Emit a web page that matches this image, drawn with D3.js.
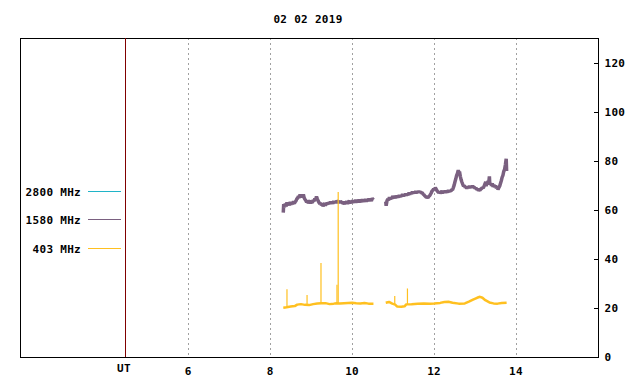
<!DOCTYPE html>
<html><head><meta charset="utf-8">
<script src="https://cdn.jsdelivr.net/npm/d3@7/dist/d3.min.js"></script>
<style>body{margin:0;background:#fff}svg{display:block}text{font-family:"DejaVu Sans Mono",monospace;font-weight:bold;font-size:11px;letter-spacing:0.3px;fill:#000}</style>
</head><body><svg id="c" width="640" height="384"></svg>
<script>
const title = "02 02 2019";
const xTicks = [6, 8, 10, 12, 14];
const yTicks = [0, 20, 40, 60, 80, 100, 120];
const legendLabels = ["2800 MHz", "1580 MHz", "403 MHz"];
const legendColors = ["#20b4c8", "#7a6080", "#ffc020"];

// 1580 MHz series: two segments [hour, value]
const s1580a = [[8.32,59.0],[8.33,62.5],[8.35,61.2],[8.37,62.6],[8.39,61.5],[8.41,63.2],[8.43,61.9],[8.45,62.8],[8.47,62.0],[8.49,63.4],[8.51,62.3],[8.53,63.0],[8.55,62.4],[8.57,63.7],[8.59,62.8],[8.61,63.4],[8.63,63.8],[8.65,64.6],[8.67,64.9],[8.69,65.7],[8.71,65.0],[8.73,66.4],[8.75,65.4],[8.77,66.0],[8.79,65.2],[8.81,66.4],[8.83,65.0],[8.85,64.4],[8.87,63.9],[8.89,63.2],[8.91,63.9],[8.93,62.8],[8.95,63.5],[8.97,63.8],[8.99,62.9],[9.01,63.4],[9.03,63.0],[9.05,64.1],[9.07,63.6],[9.09,64.7],[9.11,64.2],[9.13,65.6],[9.15,64.6],[9.17,63.8],[9.19,63.2],[9.21,62.6],[9.23,63.0],[9.25,62.0],[9.27,62.5],[9.29,61.6],[9.31,62.3],[9.33,62.8],[9.35,61.9],[9.37,62.5],[9.39,62.9],[9.41,62.4],[9.43,63.2],[9.45,62.5],[9.47,63.5],[9.49,62.8],[9.51,63.4],[9.53,62.6],[9.55,63.7],[9.57,63.0],[9.59,63.6],[9.61,63.0],[9.63,63.9],[9.65,63.3],[9.67,63.8],[9.69,62.9],[9.71,63.7],[9.73,63.2],[9.75,63.5],[9.77,62.7],[9.79,63.1],[9.81,62.4],[9.83,63.5],[9.85,62.9],[9.87,63.6],[9.89,62.6],[9.91,63.4],[9.93,63.8],[9.95,62.9],[9.97,63.5],[9.99,63.1],[10.01,64.0],[10.03,63.2],[10.05,63.7],[10.07,63.1],[10.09,64.2],[10.11,63.4],[10.13,63.8],[10.15,63.2],[10.17,64.3],[10.19,63.5],[10.21,63.9],[10.23,63.3],[10.25,64.4],[10.27,63.6],[10.29,64.0],[10.31,63.5],[10.33,64.5],[10.35,63.7],[10.37,64.1],[10.39,63.8],[10.41,64.7],[10.43,63.9],[10.45,64.3],[10.47,63.8],[10.49,64.8],[10.52,64.2]];
const s1580b = [[10.82,63.5],[10.83,61.8],[10.85,63.8],[10.87,64.6],[10.89,64.0],[10.91,65.3],[10.93,64.5],[10.95,65.0],[10.97,64.6],[10.99,65.8],[11.01,65.0],[11.03,65.5],[11.05,64.9],[11.07,65.9],[11.09,65.3],[11.11,65.7],[11.13,65.2],[11.15,66.2],[11.17,65.5],[11.19,65.9],[11.21,65.6],[11.23,66.5],[11.25,65.8],[11.27,66.2],[11.29,65.9],[11.31,66.8],[11.33,66.1],[11.35,66.5],[11.37,66.2],[11.39,67.2],[11.41,66.5],[11.43,67.0],[11.45,66.7],[11.47,67.5],[11.49,66.9],[11.51,67.3],[11.53,67.0],[11.55,67.7],[11.57,67.1],[11.59,67.5],[11.61,67.2],[11.63,67.8],[11.65,67.2],[11.67,67.5],[11.69,67.0],[11.71,67.1],[11.73,66.6],[11.75,66.3],[11.77,65.9],[11.79,65.6],[11.81,65.2],[11.83,65.4],[11.85,65.1],[11.87,65.6],[11.89,65.9],[11.91,66.4],[11.93,67.0],[11.95,67.8],[11.97,68.1],[11.99,68.7],[12.01,68.3],[12.03,69.2],[12.05,68.6],[12.07,68.0],[12.09,67.6],[12.11,67.2],[12.13,67.6],[12.15,66.9],[12.17,67.4],[12.19,67.8],[12.21,67.0],[12.23,67.5],[12.25,67.2],[12.27,68.0],[12.29,67.3],[12.31,67.6],[12.33,67.3],[12.35,68.2],[12.37,67.6],[12.39,67.9],[12.41,67.7],[12.43,68.4],[12.45,68.3],[12.47,69.2],[12.49,70.2],[12.51,71.6],[12.53,72.8],[12.55,74.2],[12.57,75.0],[12.59,76.3],[12.61,75.2],[12.62,75.8],[12.64,73.8],[12.66,72.4],[12.68,71.4],[12.70,70.5],[12.72,69.7],[12.74,70.2],[12.76,69.1],[12.78,69.6],[12.80,68.8],[12.82,69.5],[12.84,69.0],[12.86,69.9],[12.88,69.1],[12.90,69.6],[12.92,69.2],[12.94,70.0],[12.96,69.3],[12.98,69.5],[13.00,68.8],[13.02,69.2],[13.04,68.4],[13.06,68.7],[13.08,68.0],[13.10,68.3],[13.12,68.1],[13.14,68.6],[13.16,68.8],[13.18,69.3],[13.20,69.0],[13.22,69.8],[13.24,70.6],[13.26,71.6],[13.27,69.8],[13.29,71.2],[13.30,70.4],[13.32,72.0],[13.33,70.6],[13.35,73.8],[13.36,70.4],[13.38,71.0],[13.40,70.0],[13.42,70.9],[13.44,69.5],[13.46,70.3],[13.48,69.4],[13.50,70.1],[13.52,68.9],[13.54,69.6],[13.56,68.4],[13.58,69.2],[13.60,69.8],[13.62,70.9],[13.64,72.0],[13.66,73.4],[13.68,74.2],[13.70,75.8],[13.72,76.6],[13.74,78.5],[13.76,81.0],[13.77,76.0]];

// 403 MHz series
const s403a = [[8.32,20.1],[8.40,20.3],[8.50,20.6],[8.60,20.8],[8.66,21.4],[8.75,21.6],[8.85,21.3],[8.95,21.2],[9.05,21.6],[9.15,21.9],[9.25,22.0],[9.35,22.0],[9.45,21.6],[9.55,21.8],[9.62,22.0],[9.70,21.9],[9.80,22.0],[9.90,22.1],[10.00,22.2],[10.10,22.0],[10.20,21.9],[10.30,22.1],[10.40,21.8],[10.52,21.8]];
const s403b = [[10.82,22.2],[10.90,22.5],[10.98,21.8],[11.05,21.4],[11.10,20.6],[11.20,20.5],[11.28,20.7],[11.32,21.5],[11.45,21.6],[11.60,21.8],[11.75,21.9],[11.90,21.8],[12.00,21.9],[12.15,22.1],[12.25,22.5],[12.35,22.6],[12.45,22.2],[12.60,21.8],[12.75,21.9],[12.85,22.6],[12.95,23.4],[13.05,24.2],[13.12,24.6],[13.18,24.2],[13.25,23.2],[13.35,22.3],[13.45,21.9],[13.55,21.8],[13.65,22.1],[13.77,22.2]];
// 403 MHz spikes: [hour, base, peak]
const s403spikes = [[8.41,20.5,27.7],[8.90,21.2,25.3],[9.24,22.0,38.4],[9.63,21.8,29.5],[9.66,21.8,67.4],[11.04,21.4,24.9],[11.35,21.5,28.0]];

const svg = d3.select("#c");
const L = 20, R = 598, T = 38, B = 357;
const x = d3.scaleLinear().domain([1.895, 16.0]).range([L, R]);
const y = d3.scaleLinear().domain([0, 130]).range([B, 38.8]);

// grid
svg.append("g").selectAll("line").data(xTicks).join("line")
  .attr("x1", d => Math.round(x(d)) + 0.5).attr("x2", d => Math.round(x(d)) + 0.5)
  .attr("y1", T).attr("y2", B)
  .attr("stroke", "#a0a0a0").attr("stroke-width", 1).attr("stroke-dasharray", "2,3");

// frame
svg.append("rect").attr("x", L + 0.5).attr("y", T + 0.5).attr("width", R - L).attr("height", B - T)
  .attr("fill", "none").attr("stroke", "#000").attr("stroke-width", 1);

// UT separator
svg.append("line").attr("x1", 125.5).attr("x2", 125.5).attr("y1", T).attr("y2", B)
  .attr("stroke", "#800000").attr("stroke-width", 1);

// right axis
const yAxis = d3.axisRight(y).tickValues(yTicks).tickSize(0).tickPadding(6);
const ga = svg.append("g").attr("transform", `translate(${R + 0.5},0)`).call(yAxis);
ga.select(".domain").remove();
ga.selectAll("text").attr("font-size", null).attr("font-family", null);
svg.append("g").selectAll("line").data(yTicks.filter(d => d > 0)).join("line")
  .attr("x1", R - 4).attr("x2", R).attr("y1", d => Math.round(y(d)) + 0.5).attr("y2", d => Math.round(y(d)) + 0.5)
  .attr("stroke", "#000");

// x labels
svg.append("g").selectAll("text").data(xTicks).join("text")
  .attr("x", d => x(d)).attr("y", 375).attr("text-anchor", "middle").text(d => d);
svg.append("text").attr("x", 124).attr("y", 372).attr("text-anchor", "middle").text("UT");

// title
svg.append("text").attr("x", 308).attr("y", 23).attr("text-anchor", "middle").text(title);

// legend
const ly = [191.5, 219.5, 248.5];
legendLabels.forEach((t, i) => {
  svg.append("text").attr("x", 81).attr("y", ly[i] + 4).attr("text-anchor", "end").text(t);
  svg.append("line").attr("x1", 88).attr("x2", 121).attr("y1", ly[i]).attr("y2", ly[i])
    .attr("stroke", legendColors[i]).attr("stroke-width", 1);
});

const line = d3.line().x(d => x(d[0])).y(d => y(d[1]));
[s1580a, s1580b].forEach(s => svg.append("path").attr("d", line(s)).attr("fill", "none")
  .attr("stroke", legendColors[1]).attr("stroke-width", 3.5).attr("stroke-linejoin", "bevel"));
[s403a, s403b].forEach(s => svg.append("path").attr("d", line(s)).attr("fill", "none")
  .attr("stroke", legendColors[2]).attr("stroke-width", 2.5).attr("stroke-linejoin", "bevel"));
svg.append("g").selectAll("line").data(s403spikes).join("line")
  .attr("x1", d => x(d[0])).attr("x2", d => x(d[0]))
  .attr("y1", d => y(d[1])).attr("y2", d => y(d[2]))
  .attr("stroke", legendColors[2]).attr("stroke-width", 1.2);
</script></body></html>
